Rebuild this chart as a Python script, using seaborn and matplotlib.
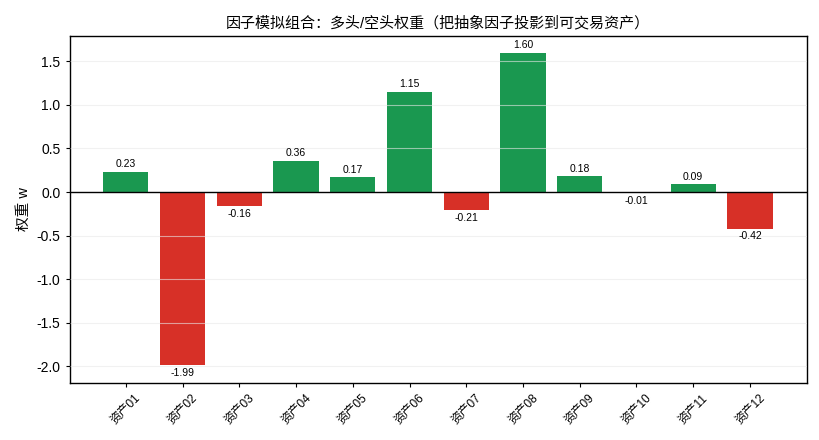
import matplotlib
matplotlib.use("Agg")
import matplotlib.pyplot as plt
import seaborn as sns
import pandas as pd

assets = ["资产01", "资产02", "资产03", "资产04", "资产05", "资产06",
          "资产07", "资产08", "资产09", "资产10", "资产11", "资产12"]
weights = [0.23, -1.99, -0.16, 0.36, 0.17, 1.15, -0.21, 1.60, 0.18, -0.01, 0.09, -0.42]

sns.set_style("white")
plt.rcParams['font.family'] = ['Liberation Sans', 'Noto Sans CJK SC', 'DejaVu Sans']
plt.rcParams['axes.unicode_minus'] = False
plt.rcParams['text.color'] = 'black'
plt.rcParams['axes.labelcolor'] = 'black'
plt.rcParams['xtick.color'] = 'black'
plt.rcParams['ytick.color'] = 'black'

df = pd.DataFrame({"asset": assets, "w": weights})
colors = ["#1a9850" if v >= 0 else "#d73027" for v in weights]

fig, ax = plt.subplots(figsize=(8.19, 4.40), dpi=100)
sns.barplot(data=df, x="asset", y="w", hue="asset", palette=colors, legend=False,
            width=0.8, ax=ax, saturation=1, linewidth=0, edgecolor="none")
ax.axhline(0, color="black", linewidth=1, zorder=5)
ax.set_ylim(-2.19, 1.79)
ax.set_xlim(-0.99, 12.0)
ax.grid(axis="y", color="#e8e8e8", linewidth=0.8, alpha=0.6)
ax.set_axisbelow(False)
for sp in ax.spines.values():
    sp.set_color("black")
    sp.set_linewidth(1)
ax.tick_params(axis="both", which="both", length=3, color="black", left=True, bottom=True)
ax.tick_params(axis="y", labelsize=10)
ax.tick_params(axis="x", labelsize=8.5)
for lbl in ax.get_xticklabels():
    lbl.set_rotation(45)
ax.set_xlabel("")
ax.set_ylabel("权重 w", fontsize=10.5)
ax.set_title("因子模拟组合：多头/空头权重（把抽象因子投影到可交易资产）", fontsize=10.8)

for i, v in enumerate(weights):
    if v >= 0:
        ax.text(i, v + 0.03, f"{v:.2f}", ha="center", va="bottom", fontsize=7.5, zorder=6)
    else:
        ax.text(i, v - 0.03, f"{v:.2f}", ha="center", va="top", fontsize=7.5, zorder=6)

fig.subplots_adjust(left=0.085, right=0.985, top=0.918, bottom=0.13)
fig.savefig("out.png", dpi=100)
